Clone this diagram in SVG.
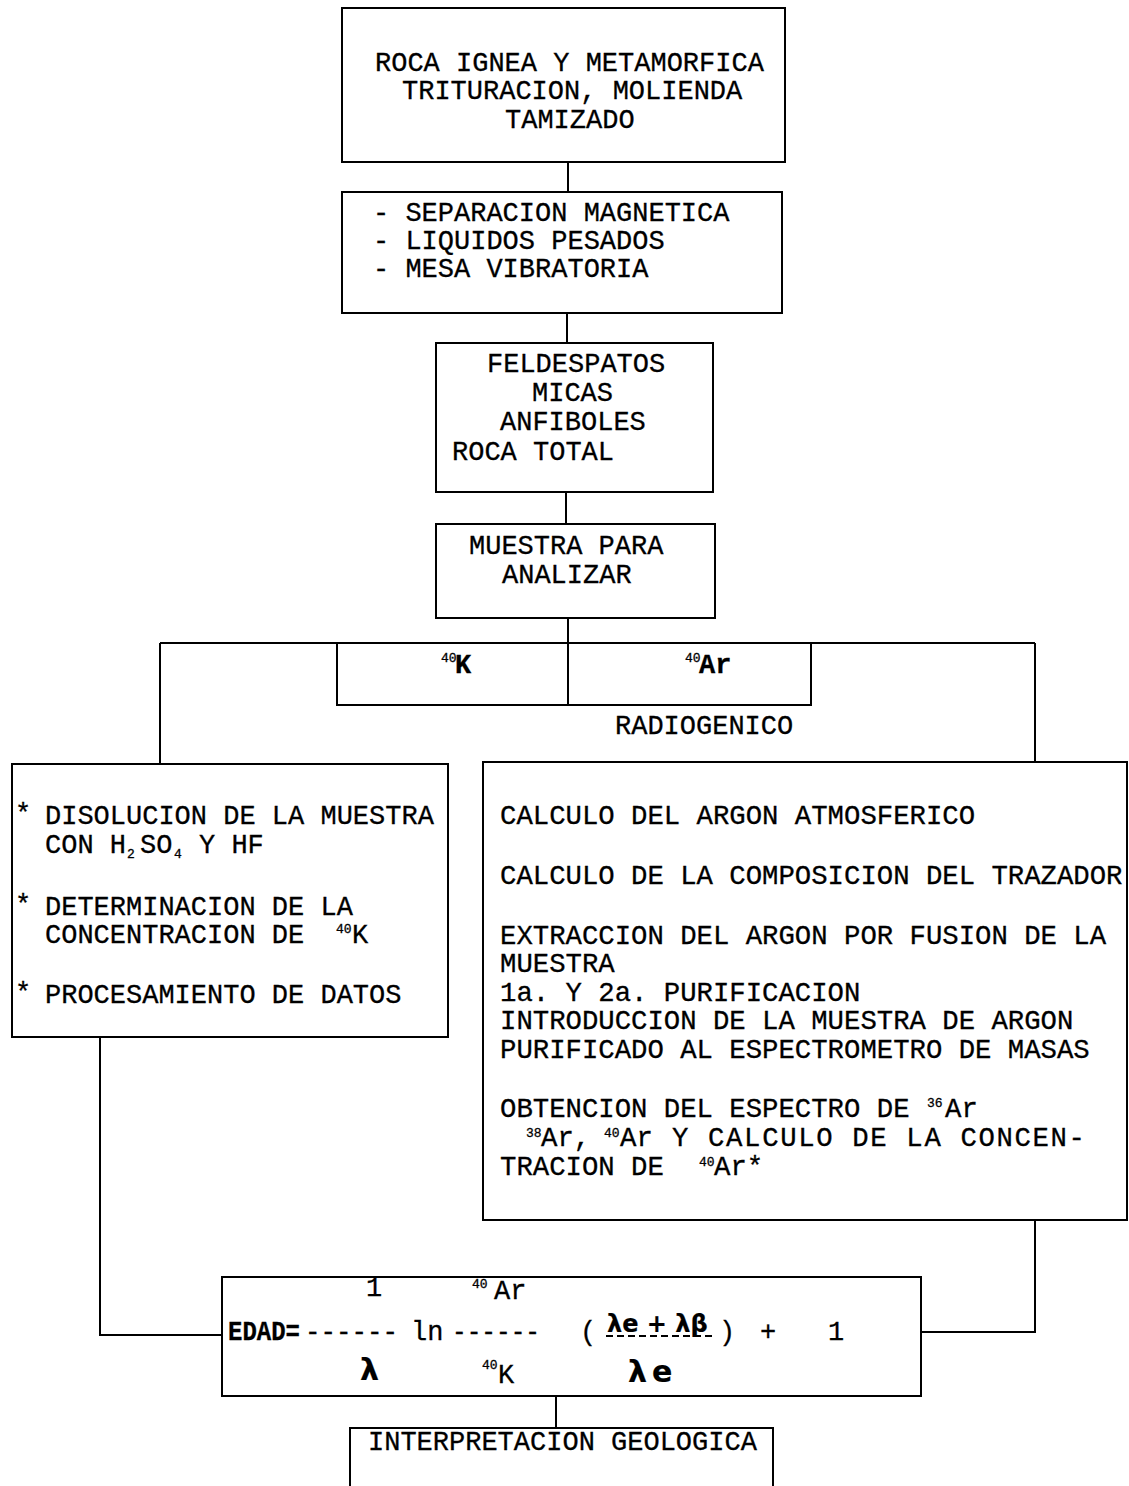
<svg xmlns="http://www.w3.org/2000/svg" width="1129" height="1486" viewBox="0 0 1129 1486">
<style>
rect{fill:none;stroke:#000;stroke-width:2}
.c line,.c polyline{fill:none;stroke:#000;stroke-width:2}
text{font-family:"Liberation Mono","Courier New",monospace;font-size:27px;fill:#000;stroke:#000;stroke-width:0.3}
.r text{font-size:27.3px}
text.sup,.r text.sup{font-size:13px}
.hand{font-family:"DejaVu Sans",sans-serif;font-weight:bold;stroke-width:0.2}
</style>
<rect x="0" y="0" width="1129" height="1486" style="fill:#fff;stroke:none"/>
<g class="c" id="connectors">
<line x1="568" y1="162" x2="568" y2="192"/>
<line x1="567" y1="313" x2="567" y2="343"/>
<line x1="566" y1="492" x2="566" y2="524"/>
<line x1="568" y1="618" x2="568" y2="643"/>
<line x1="160" y1="643" x2="1035" y2="643"/>
<line x1="160" y1="643" x2="160" y2="764"/>
<line x1="1035" y1="643" x2="1035" y2="762"/>
<polyline points="100,1037 100,1335 222,1335"/>
<polyline points="1035,1220 1035,1332 921,1332"/>
<line x1="556" y1="1396" x2="556" y2="1428"/>
</g>
<g id="n1">
<rect x="342" y="8" width="443" height="154"/>
<text x="375" y="71">ROCA IGNEA Y METAMORFICA</text>
<text x="402" y="99">TRITURACION, MOLIENDA</text>
<text x="505" y="128">TAMIZADO</text>
</g>
<g id="n2">
<rect x="342" y="192" width="440" height="121"/>
<text x="373" y="221">- SEPARACION MAGNETICA</text>
<text x="373" y="249">- LIQUIDOS PESADOS</text>
<text x="373" y="277">- MESA VIBRATORIA</text>
</g>
<g id="n3">
<rect x="436" y="343" width="277" height="149"/>
<text x="487" y="372">FELDESPATOS</text>
<text x="532" y="401">MICAS</text>
<text x="500" y="430">ANFIBOLES</text>
<text x="452" y="460">ROCA TOTAL</text>
</g>
<g id="n4">
<rect x="436" y="524" width="279" height="94"/>
<text x="469" y="554">MUESTRA PARA</text>
<text x="502" y="583">ANALIZAR</text>
</g>
<g id="n5">
<rect x="337" y="643" width="474" height="62"/>
<line x1="568" y1="643" x2="568" y2="705" style="stroke:#000;stroke-width:2"/>
<text x="441" y="662" class="sup">40</text>
<text x="455" y="673" style="font-weight:bold">K</text>
<text x="685" y="662" class="sup">40</text>
<text x="699" y="673" style="font-weight:bold">Ar</text>
<text x="615" y="734">RADIOGENICO</text>
</g>
<g id="n6">
<rect x="12" y="764" width="436" height="273"/>
<text x="15" y="822">*</text>
<text x="45" y="824">DISOLUCION DE LA MUESTRA</text>
<text x="45" y="853">CON H</text>
<text x="127" y="858" class="sup">2</text>
<text x="140" y="853">SO</text>
<text x="174" y="858" class="sup">4</text>
<text x="199" y="853">Y HF</text>
<text x="15" y="913">*</text>
<text x="45" y="915">DETERMINACION DE LA</text>
<text x="45" y="943">CONCENTRACION DE</text>
<text x="336" y="933" class="sup">40</text>
<text x="352" y="943">K</text>
<text x="15" y="1001">*</text>
<text x="45" y="1003">PROCESAMIENTO DE DATOS</text>
</g>
<g id="n7" class="r">
<rect x="483" y="762" width="644" height="458"/>
<text x="500" y="824">CALCULO DEL ARGON ATMOSFERICO</text>
<text x="500" y="884">CALCULO DE LA COMPOSICION DEL TRAZADOR</text>
<text x="500" y="944">EXTRACCION DEL ARGON POR FUSION DE LA</text>
<text x="500" y="972">MUESTRA</text>
<text x="500" y="1001">1a. Y 2a.  PURIFICACION</text>
<text x="500" y="1029">INTRODUCCION DE LA MUESTRA DE ARGON</text>
<text x="500" y="1058">PURIFICADO AL ESPECTROMETRO DE MASAS</text>
<text x="500" y="1117">OBTENCION DEL ESPECTRO DE</text>
<text x="927" y="1107" class="sup">36</text>
<text x="945" y="1117">Ar</text>
<text x="526" y="1137" class="sup">38</text>
<text x="541" y="1146">Ar,</text>
<text x="604" y="1137" class="sup">40</text>
<text x="620" y="1146">Ar</text>
<text x="672" y="1146" textLength="413" lengthAdjust="spacing">Y CALCULO DE LA CONCEN-</text>
<text x="500" y="1175">TRACION DE</text>
<text x="699" y="1166" class="sup">40</text>
<text x="714" y="1175">Ar*</text>
</g>
<g id="n8">
<rect x="222" y="1277" width="699" height="119"/>
<text x="228" y="1340" style="font-weight:bold" textLength="72" lengthAdjust="spacingAndGlyphs">EDAD=</text>
<text x="305" y="1340" textLength="93" lengthAdjust="spacingAndGlyphs">------</text>
<text x="366" y="1296">1</text>
<text x="360" y="1380" class="hand" style="font-size:30px">λ</text>
<text x="411" y="1340">ln</text>
<text x="452" y="1340" textLength="88" lengthAdjust="spacingAndGlyphs">------</text>
<text x="472" y="1288" class="sup">40</text>
<text x="494" y="1299">Ar</text>
<text x="482" y="1369" class="sup">40</text>
<text x="498" y="1383">K</text>
<text x="580" y="1340">(</text>
<text x="607" y="1332" class="hand" style="font-size:24px">λe + λβ</text>
<line x1="606" y1="1336" x2="716" y2="1336" style="stroke:#000;stroke-width:2;stroke-dasharray:7 4"/>
<text x="719" y="1340">)</text>
<text x="760" y="1340">+</text>
<text x="828" y="1340">1</text>
<text x="628" y="1382" class="hand" style="font-size:30px;letter-spacing:5px">λe</text>
</g>
<g id="n9">
<path d="M350,1490 V1428 H773 V1490" style="fill:none;stroke:#000;stroke-width:2"/>
<text x="368" y="1450">INTERPRETACION GEOLOGICA</text>
</g>
</svg>
